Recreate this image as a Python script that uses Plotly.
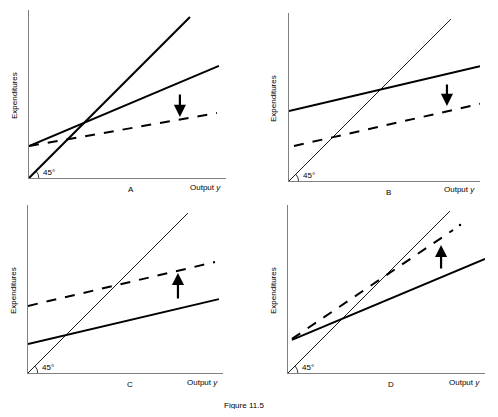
import plotly.graph_objects as go

# Panel A: planned expenditure shifts down, 45 degree line heavy
a_diag_x = [0, 8.17]
a_diag_y = [0, 8.17]
a_ae_x = [0, 9.64]
a_ae_y = [1.62, 5.69]
a_new_x = [0, 9.54]
a_new_y = [1.62, 3.30]
a_arrow = [7.66, 4.31, 3.10]  # x, tail y, head y

# Panel B: parallel shift down
b_diag_x = [0, 8.48]
b_diag_y = [0, 8.48]
b_ae_x = [0, 10.0]
b_ae_y = [3.66, 6.01]
b_new_x = [0.26, 10.0]
b_new_y = [1.83, 4.04]
b_arrow = [8.27, 5.13, 3.93]

# Panel C: parallel shift up
c_diag_x = [0, 8.2]
c_diag_y = [0, 8.2]
c_ae_x = [0, 9.79]
c_ae_y = [1.49, 3.79]
c_new_x = [0, 9.59]
c_new_y = [3.44, 5.69]
c_arrow = [7.69, 3.74, 5.13]

# Panel D: slope rises
d_diag_x = [0, 8.22]
d_diag_y = [0, 8.22]
d_ae_x = [0.2, 10.0]
d_ae_y = [1.68, 5.79]
d_new_x = [0.2, 8.38]
d_new_y = [1.73, 7.26]
d_dot = [8.73, 7.51]
d_arrow = [7.77, 5.23, 6.50]

letters = ["A", "B", "C", "D"]

# the page body has an 8px margin all round, so the figure is drawn smaller and shifted
OFF = 8
W, H = 498 - 2 * OFF, 417 - 2 * OFF
# pixel boxes of each panel in the page: left, right, bottom, top
boxes = [(29, 226, 178, 10), (289, 480, 181, 13), (28, 223, 373, 205), (288, 485, 373, 205)]

FONT = "Liberation Sans, Arial, sans-serif"
AXC = "#808080"


def px(xp):
    return (xp - OFF) / W


def py(yp):
    return 1 - (yp - OFF) / H


fig = go.Figure()

panels = [
    (a_diag_x, a_diag_y, a_ae_x, a_ae_y, a_new_x, a_new_y, a_arrow, 2.0),
    (b_diag_x, b_diag_y, b_ae_x, b_ae_y, b_new_x, b_new_y, b_arrow, 0.9),
    (c_diag_x, c_diag_y, c_ae_x, c_ae_y, c_new_x, c_new_y, c_arrow, 0.9),
    (d_diag_x, d_diag_y, d_ae_x, d_ae_y, d_new_x, d_new_y, d_arrow, 0.9),
]

annotations = []
shapes = []
layout_axes = {}
txt = dict(family=FONT, size=8, color="black")

for i, (dx, dy, ax_, ay_, nx, ny, arr, dw) in enumerate(panels):
    n = "" if i == 0 else str(i + 1)
    xa, ya = "x" + n, "y" + n
    l, r, b, t = boxes[i]
    s = (r - l) / 10.0
    yr = (b - t) / s

    fig.add_trace(go.Scatter(x=dx, y=dy, mode="lines", line=dict(color="black", width=dw),
                             xaxis=xa, yaxis=ya, showlegend=False, hoverinfo="skip"))
    fig.add_trace(go.Scatter(x=ax_, y=ay_, mode="lines", line=dict(color="black", width=2),
                             xaxis=xa, yaxis=ya, showlegend=False, hoverinfo="skip"))
    fig.add_trace(go.Scatter(x=nx, y=ny, mode="lines", line=dict(color="black", width=2, dash="10px,9px"),
                             xaxis=xa, yaxis=ya, showlegend=False, hoverinfo="skip"))

    layout_axes["xaxis" + n] = dict(domain=[px(l), px(r)], range=[0, 10], anchor=ya,
                                    showline=True, linecolor=AXC, linewidth=1,
                                    showgrid=False, zeroline=False, showticklabels=False, ticks="")
    layout_axes["yaxis" + n] = dict(domain=[py(b), py(t)], range=[0, yr], anchor=xa,
                                    showline=True, linecolor=AXC, linewidth=1,
                                    showgrid=False, zeroline=False, showticklabels=False, ticks="")

    # shift arrow
    annotations.append(dict(x=arr[0], y=arr[2], ax=arr[0], ay=arr[1], xref=xa, yref=ya,
                            axref=xa, ayref=ya, showarrow=True, arrowhead=2, arrowsize=1.1,
                            arrowwidth=2.2, arrowcolor="black", text=""))
    # 45 degree label and arc
    annotations.append(dict(x=0.62, y=0.27, xref=xa, yref=ya, text="45°", showarrow=False,
                            xanchor="left", yanchor="middle", font=txt))
    shapes.append(dict(type="path", xref=xa, yref=ya,
                       path="M 0.5,0 Q 0.5,0.207 0.354,0.354",
                       line=dict(color="black", width=0.8)))
    # panel letter, axis labels
    annotations.append(dict(x=px((l + r) / 2 + 4), y=py(b + 11), xref="paper", yref="paper",
                            text=letters[i], showarrow=False, xanchor="center", yanchor="middle",
                            font=txt))
    annotations.append(dict(x=px(r - 3), y=py(b + 9), xref="paper", yref="paper",
                            text="Output <i>y</i>", showarrow=False, xanchor="right", yanchor="middle",
                            font=txt))
    annotations.append(dict(x=px(l - 15), y=py((b + t) / 2 + 2), xref="paper", yref="paper",
                            text="Expenditures", textangle=-90, showarrow=False,
                            xanchor="center", yanchor="middle", font=txt))

fig.add_trace(go.Scatter(x=[d_dot[0]], y=[d_dot[1]], mode="markers", marker=dict(color="black", size=2.5),
                         xaxis="x4", yaxis="y4", showlegend=False, hoverinfo="skip"))

annotations.append(dict(x=px(244), y=py(405), xref="paper", yref="paper", text="Figure 11.5",
                        showarrow=False, xanchor="center", yanchor="middle", font=txt))

fig.update_layout(width=W, height=H, margin=dict(l=0, r=0, t=0, b=0),
                  paper_bgcolor="white", plot_bgcolor="white",
                  annotations=annotations, shapes=shapes, **layout_axes)

fig.write_html("out.html")
